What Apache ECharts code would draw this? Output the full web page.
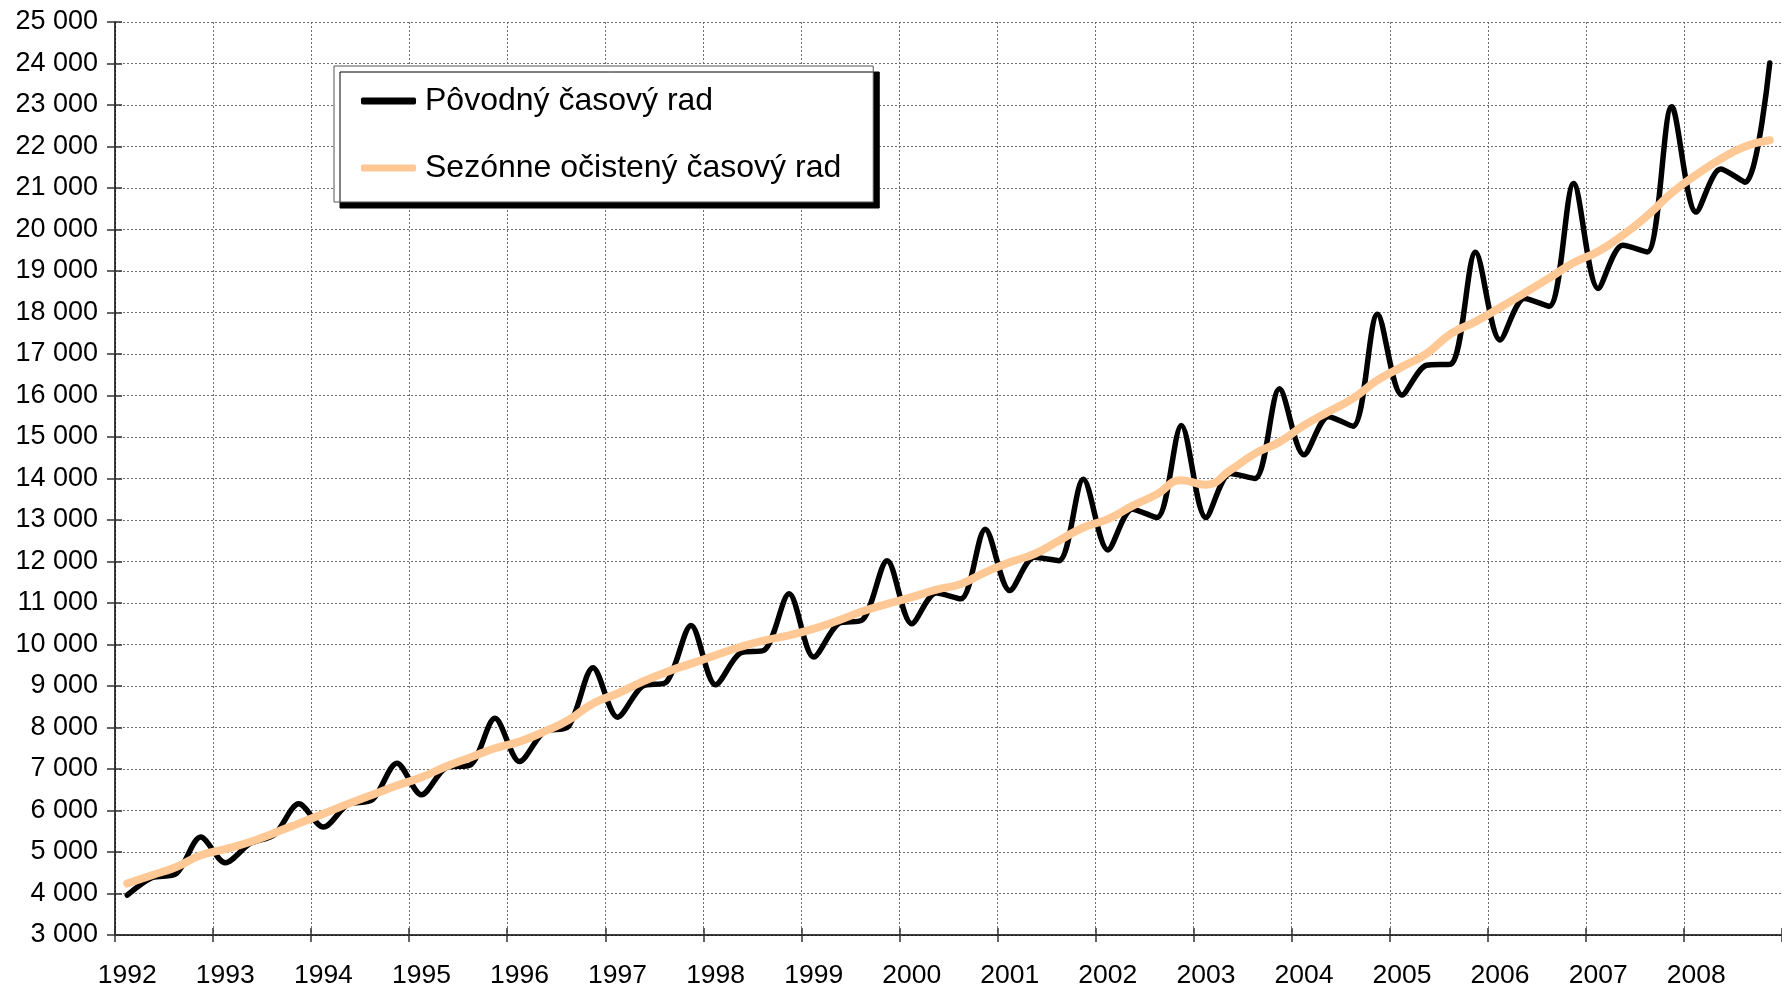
<!DOCTYPE html>
<html>
<head>
<meta charset="utf-8">
<script src="https://cdn.jsdelivr.net/npm/echarts@6/dist/echarts.min.js"></script>
<style>
html,body{margin:0;padding:0;background:#fff;}
#chart{width:1782px;height:992px;}
</style>
</head>
<body>
<div id="chart"></div>
<script>
const years = ['1992','1993','1994','1995','1996','1997','1998','1999','2000','2001','2002','2003','2004','2005','2006','2007','2008'];
const quarters = ['Q1','Q2','Q3','Q4'];
const seriesNames = ['Pôvodný časový rad', 'Sezónne očistený časový rad'];

const original = [
  3960, 4380, 4480, 5360,
  4740, 5200, 5420, 6160,
  5600, 6150, 6260, 7140,
  6380, 7030, 7100, 8220,
  7180, 7900, 8030, 9440,
  8250, 8990, 9100, 10460,
  9030, 9790, 9870, 11220,
  9700, 10500, 10600, 12020,
  10500, 11240, 11100, 12780,
  11300, 12100, 12020, 13980,
  12280, 13260, 13060, 15280,
  13060, 14120, 14000, 16160,
  14570, 15490, 15260, 17960,
  16010, 16730, 16760, 19450,
  17340, 18340, 18150, 21110,
  18580, 19620, 19460, 22960,
  20420, 21460, 21140, 24010
];

const adjusted = [
  4240, 4440, 4640, 4920,
  5070, 5240, 5460, 5690,
  5920, 6160, 6380, 6600,
  6800, 7060, 7280, 7500,
  7660, 7900, 8180, 8580,
  8820, 9100, 9340, 9540,
  9740, 9940, 10100, 10220,
  10380, 10580, 10800, 10980,
  11140, 11320, 11460, 11740,
  11980, 12180, 12500, 12820,
  13020, 13340, 13620, 13960,
  13850, 14200, 14600, 14880,
  15280, 15610, 15930, 16370,
  16690, 17010, 17490, 17780,
  18120, 18470, 18830, 19200,
  19470, 19860, 20330, 20880,
  21320, 21700, 22000, 22150
];

const yMin = 3000, yMax = 25000, yStep = 1000;

const categories = [];
years.forEach(y => quarters.forEach(q => categories.push(y + ' ' + q)));

const FONT = '"Liberation Sans", Arial, sans-serif';
const gridLine = { show: true, lineStyle: { color: '#6e6e6e', type: [2, 2], width: 1 } };
const BLACK = '#000000';
const PEACH = '#FFC894';

const chart = echarts.init(document.getElementById('chart'), null, { renderer: 'canvas' });
chart.setOption({
  animation: false,
  backgroundColor: '#ffffff',
  textStyle: { fontFamily: FONT },
  grid: { left: 115, top: 22, right: 0, bottom: 57, containLabel: false },
  legend: {
    show: true,
    data: [
      { name: seriesNames[0], icon: 'roundRect', itemStyle: { color: BLACK } },
      { name: seriesNames[1], icon: 'roundRect', itemStyle: { color: PEACH } }
    ],
    orient: 'vertical',
    left: 334,
    top: 66,
    padding: [18, 32, 17, 27],
    itemGap: 33,
    itemWidth: 55,
    itemHeight: 7,
    backgroundColor: '#ffffff',
    borderColor: '#555555',
    borderWidth: 1,
    shadowColor: '#000000',
    shadowBlur: 0,
    shadowOffsetX: 6,
    shadowOffsetY: 6,
    textStyle: { fontFamily: FONT, fontSize: 32, color: '#000', lineHeight: 34, padding: [0, 0, 0, 4] }
  },
  xAxis: [{
    type: 'category',
    data: categories,
    boundaryGap: true,
    position: 'bottom',
    axisLine: { show: true, lineStyle: { color: '#000', width: 1.5 } },
    axisTick: { show: true, interval: 3, length: 7, lineStyle: { color: '#333', width: 1.5 } },
    axisLabel: {
      interval: 3, margin: 27, color: '#000', fontFamily: FONT, fontSize: 26.5,
      formatter: v => v.split(' ')[0]
    },
    splitLine: Object.assign({ interval: 3 }, gridLine)
  }, {
    type: 'category',
    data: categories,
    boundaryGap: true,
    position: 'bottom',
    axisLine: { show: false },
    axisTick: { show: true, inside: true, interval: 3, length: 7, lineStyle: { color: '#333', width: 1.5 } },
    axisLabel: { show: false },
    splitLine: { show: false }
  }],
  yAxis: [{
    type: 'value',
    min: yMin, max: yMax, interval: yStep,
    position: 'left',
    axisLine: { show: true, lineStyle: { color: '#000', width: 1.5 } },
    axisTick: { show: true, length: 8, lineStyle: { color: '#333', width: 1.5 } },
    axisLabel: {
      margin: 17, color: '#000', fontFamily: FONT, fontSize: 27,
      formatter: v => String(v).replace(/\B(?=(\d{3})+(?!\d))/g, ' ')
    },
    splitLine: gridLine
  }, {
    type: 'value',
    min: yMin, max: yMax, interval: yStep,
    position: 'left',
    axisLine: { show: false },
    axisTick: { show: true, inside: true, length: 7, lineStyle: { color: '#333', width: 1.5 } },
    axisLabel: { show: false },
    splitLine: { show: false }
  }],
  series: [{
    name: seriesNames[0],
    type: 'line',
    xAxisIndex: 0, yAxisIndex: 0,
    data: original,
    smooth: 0.3,
    symbol: 'none',
    lineStyle: { color: BLACK, width: 5.5, cap: 'round', join: 'round' },
    itemStyle: { color: BLACK },
    z: 3
  }, {
    name: seriesNames[1],
    type: 'line',
    xAxisIndex: 0, yAxisIndex: 0,
    data: adjusted,
    smooth: 0.5,
    symbol: 'none',
    lineStyle: { color: PEACH, width: 8, cap: 'round', join: 'round' },
    itemStyle: { color: PEACH },
    z: 4
  }]
});
</script>
</body>
</html>
